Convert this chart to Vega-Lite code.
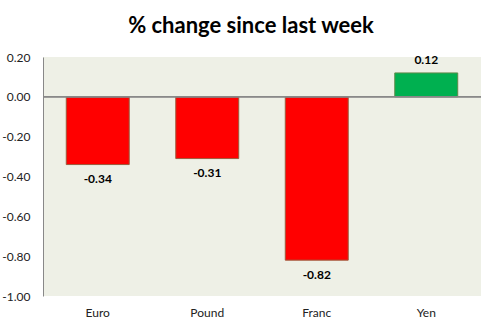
{
  "$schema": "https://vega.github.io/schema/vega-lite/v6.json",
  "autosize": {"type": "none"},
  "width": 438,
  "height": 239,
  "padding": {"left": 43, "top": 57, "right": 21, "bottom": 33},
  "background": "white",
  "title": {
    "text": "% change since last week",
    "font": "Lato",
    "fontSize": 22,
    "fontWeight": "bold",
    "color": "#000000",
    "anchor": "middle",
    "frame": "group",
    "dx": -11,
    "offset": 13
  },
  "config": {
    "view": {"fill": "#EEF0E6", "stroke": null},
    "font": "Lato",
    "axis": {"labelOverlap": false}
  },
  "data": {
    "values": [
      {"currency": "Euro", "change": -0.34},
      {"currency": "Pound", "change": -0.31},
      {"currency": "Franc", "change": -0.82},
      {"currency": "Yen", "change": 0.12}
    ]
  },
  "encoding": {
    "x": {
      "field": "currency",
      "type": "nominal",
      "sort": null,
      "scale": {"paddingInner": 0.425, "paddingOuter": 0.2125},
      "axis": {
        "title": null,
        "labelAngle": 0,
        "ticks": false,
        "domain": false,
        "labelPadding": 11,
        "labelFontSize": 12,
        "labelColor": "#222222",
        "labelFont": "Lato"
      }
    },
    "y": {
      "field": "change",
      "type": "quantitative",
      "scale": {"domain": [-1, 0.2], "nice": false, "zero": false},
      "axis": {
        "title": null,
        "labelExpr": "replace(format(datum.value, '.2f'), '\u2212', '-')",
        "values": [-1, -0.8, -0.6, -0.4, -0.2, 0, 0.2],
        "labelOverlap": false,
        "labelBound": false,
        "labelFlush": false,
        "grid": false,
        "ticks": false,
        "domainColor": "#888888",
        "labelPadding": 13,
        "labelFontSize": 12,
        "labelColor": "#222222",
        "labelFont": "Lato"
      }
    }
  },
  "layer": [
    {
      "mark": {"type": "bar", "strokeWidth": 1},
      "encoding": {
        "color": {
          "condition": {"test": "datum.change >= 0", "value": "#00B050"},
          "value": "#FF0000"
        },
        "stroke": {
          "condition": {"test": "datum.change >= 0", "value": "#5F8A4A"},
          "value": "#9C5A3C"
        }
      }
    },
    {
      "transform": [{"filter": "datum.change < 0"}],
      "mark": {"type": "text", "fontWeight": "bold", "fontSize": 12, "baseline": "middle", "dy": 14.5, "color": "#000000", "font": "Lato", "text": {"expr": "replace(format(datum.change, '.2f'), '\u2212', '-')"}},
      "encoding": {}
    },
    {
      "transform": [{"filter": "datum.change >= 0"}],
      "mark": {"type": "text", "fontWeight": "bold", "fontSize": 12, "baseline": "middle", "dy": -13, "color": "#000000", "font": "Lato", "text": {"expr": "format(datum.change, '.2f')"}},
      "encoding": {}
    },
    {
      "mark": {"type": "rule", "color": "#888888", "strokeWidth": 1},
      "encoding": {"y": {"datum": 0, "type": "quantitative"}, "x": {"value": 0}, "x2": {"value": 438}}
    }
  ]
}
